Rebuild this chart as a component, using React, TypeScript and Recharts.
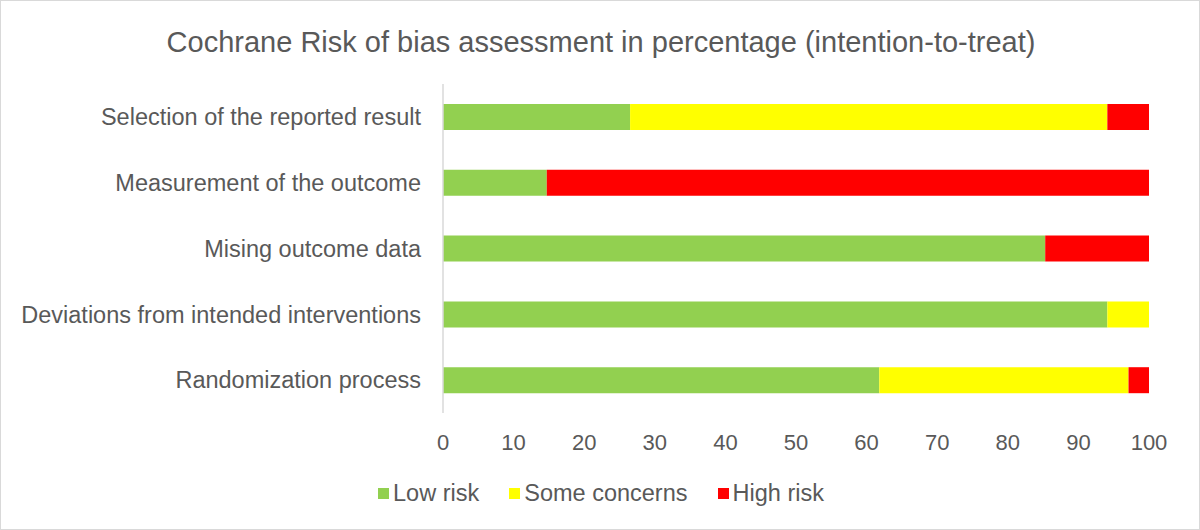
import React from "react";
import { BarChart, Bar, XAxis, YAxis } from "recharts";

const domains = [
  "Selection of the reported result",
  "Measurement of the outcome",
  "Mising outcome data",
  "Deviations from intended interventions",
  "Randomization process",
];
const lowRisk = [26.5, 14.7, 85.3, 94.1, 61.8];
const someConcerns = [67.6, 0, 0, 5.9, 35.3];
const highRisk = [5.9, 85.3, 14.7, 0, 2.9];
const xTicks = [0, 10, 20, 30, 40, 50, 60, 70, 80, 90, 100];

const series = [
  { key: "low", name: "Low risk", color: "#92d050" },
  { key: "some", name: "Some concerns", color: "#ffff00" },
  { key: "high", name: "High risk", color: "#ff0000" },
];

const data = domains.map((d, i) => ({
  domain: d,
  low: lowRisk[i],
  some: someConcerns[i],
  high: highRisk[i],
}));

const font = "'Liberation Sans', Arial, sans-serif";
const textColor = "#595959";

function LegendRow() {
  return (
    <div
      style={{
        position: "absolute",
        top: 478,
        left: 0,
        width: 1200,
        display: "flex",
        justifyContent: "center",
        gap: 30,
        fontFamily: font,
        fontSize: 23.5,
        lineHeight: "28px",
        color: textColor,
      }}
    >
      {series.map((s) => (
        <div key={s.key} style={{ display: "flex", alignItems: "center" }}>
          <span
            style={{
              width: 11,
              height: 11,
              background: s.color,
              display: "inline-block",
              marginRight: 4,
            }}
          />
          {s.name}
        </div>
      ))}
    </div>
  );
}

export default function App() {
  return (
    <div
      style={{
        position: "absolute",
        top: 0,
        left: 0,
        width: 1200,
        height: 530,
        border: "1px solid #d9d9d9",
        boxSizing: "border-box",
        background: "#fff",
      }}
    >
      <div
        style={{
          position: "absolute",
          top: 25,
          left: 0,
          width: 1200,
          textAlign: "center",
          fontFamily: font,
          fontSize: 29,
          lineHeight: "33px",
          color: textColor,
        }}
      >
        Cochrane Risk of bias assessment in percentage (intention-to-treat)
      </div>
      <div style={{ position: "absolute", top: -1, left: -1 }}>
        <BarChart
          width={1200}
          height={530}
          data={data}
          layout="vertical"
          margin={{ top: 84, right: 51, left: 0, bottom: 77 }}
        >
          <XAxis
            type="number"
            domain={[0, 100]}
            ticks={xTicks}
            axisLine={false}
            tickLine={false}
            tickSize={0}
            tickMargin={21}
            height={40}
            tick={{ fontSize: 22, fill: textColor, fontFamily: font }}
          />
          <YAxis
            type="category"
            dataKey="domain"
            width={443}
            axisLine={{ stroke: "#d9d9d9", strokeWidth: 1.5 }}
            tickLine={false}
            tickSize={0}
            tickMargin={22}
            tick={{ fontSize: 23.5, fill: textColor, fontFamily: font }}
          />
          {series.map((s) => (
            <Bar
              key={s.key}
              dataKey={s.key}
              name={s.name}
              stackId="a"
              fill={s.color}
              barSize={26}
              isAnimationActive={false}
            />
          ))}
        </BarChart>
      </div>
      <LegendRow />
    </div>
  );
}
